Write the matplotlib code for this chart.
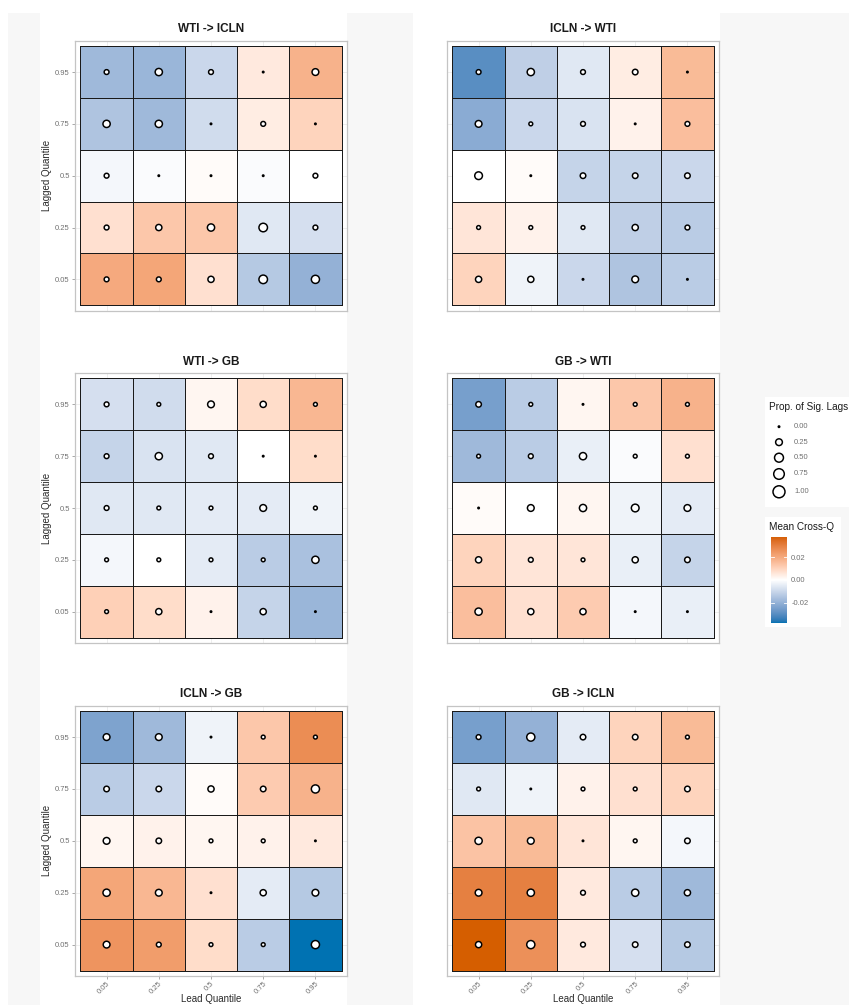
import numpy as np
import matplotlib
matplotlib.use("Agg")
import matplotlib.pyplot as plt
from matplotlib.colors import ListedColormap, Normalize
from matplotlib.patches import Rectangle
from matplotlib.cm import ScalarMappable

plt.rcParams['font.family'] = ['Liberation Sans', 'DejaVu Sans']

W, H, DPI = 849, 1005, 100

quantiles = ["0.05", "0.25", "0.5", "0.75", "0.95"]

# mean cross-quantilogram, rows from lag 0.95 (top) down to lag 0.05
wti_icln_mean = [[-0.018, -0.019, -0.010, 0.005, 0.018],
                 [-0.015, -0.018, -0.009, 0.004, 0.010],
                 [-0.002, -0.001, 0.001, -0.001, 0.000],
                 [0.007, 0.013, 0.013, -0.006, -0.008],
                 [0.020, 0.021, 0.007, -0.014, -0.020]]
wti_icln_prop = [[0.10, 0.30, 0.10, 0.00, 0.25],
                 [0.30, 0.30, 0.00, 0.10, 0.00],
                 [0.10, 0.00, 0.00, 0.00, 0.10],
                 [0.10, 0.20, 0.30, 0.45, 0.10],
                 [0.10, 0.10, 0.20, 0.45, 0.40]]

icln_wti_mean = [[-0.030, -0.012, -0.006, 0.004, 0.016],
                 [-0.022, -0.010, -0.007, 0.003, 0.015],
                 [0.000, 0.001, -0.011, -0.011, -0.010],
                 [0.006, 0.003, -0.006, -0.012, -0.013],
                 [0.010, -0.003, -0.010, -0.015, -0.013]]
icln_wti_prop = [[0.10, 0.30, 0.10, 0.15, 0.00],
                 [0.25, 0.05, 0.10, 0.00, 0.10],
                 [0.35, 0.00, 0.15, 0.15, 0.15],
                 [0.05, 0.05, 0.05, 0.20, 0.10],
                 [0.20, 0.20, 0.00, 0.25, 0.00]]

wti_gb_mean = [[-0.008, -0.009, 0.002, 0.008, 0.017],
               [-0.011, -0.007, -0.006, 0.000, 0.008],
               [-0.006, -0.006, -0.005, -0.005, -0.003],
               [-0.002, 0.000, -0.005, -0.013, -0.016],
               [0.011, 0.008, 0.003, -0.011, -0.019]]
wti_gb_prop = [[0.10, 0.05, 0.25, 0.20, 0.05],
               [0.10, 0.30, 0.10, 0.00, 0.00],
               [0.10, 0.05, 0.05, 0.25, 0.05],
               [0.05, 0.05, 0.05, 0.05, 0.30],
               [0.05, 0.20, 0.00, 0.20, 0.00]]

gb_wti_mean = [[-0.025, -0.013, 0.002, 0.013, 0.018],
               [-0.018, -0.013, -0.004, -0.001, 0.007],
               [0.001, 0.000, 0.002, -0.003, -0.005],
               [0.010, 0.006, 0.006, -0.004, -0.011],
               [0.015, 0.007, 0.012, -0.002, -0.004]]
gb_wti_prop = [[0.15, 0.05, 0.00, 0.05, 0.05],
               [0.05, 0.10, 0.30, 0.05, 0.05],
               [0.00, 0.25, 0.30, 0.35, 0.25],
               [0.20, 0.10, 0.05, 0.20, 0.15],
               [0.30, 0.20, 0.20, 0.00, 0.00]]

icln_gb_mean = [[-0.024, -0.018, -0.003, 0.013, 0.027],
                [-0.013, -0.010, 0.001, 0.012, 0.018],
                [0.002, 0.003, 0.002, 0.003, 0.005],
                [0.021, 0.017, 0.007, -0.005, -0.014],
                [0.025, 0.023, 0.008, -0.013, -0.038]]
icln_gb_prop = [[0.25, 0.25, 0.00, 0.05, 0.05],
                [0.15, 0.15, 0.20, 0.15, 0.40],
                [0.25, 0.15, 0.05, 0.05, 0.00],
                [0.30, 0.25, 0.00, 0.20, 0.25],
                [0.25, 0.10, 0.05, 0.05, 0.40]]

gb_icln_mean = [[-0.025, -0.020, -0.005, 0.010, 0.016],
                [-0.006, -0.003, 0.003, 0.007, 0.010],
                [0.014, 0.016, 0.006, 0.002, -0.002],
                [0.030, 0.030, 0.005, -0.013, -0.018],
                [0.038, 0.026, 0.005, -0.008, -0.014]]
gb_icln_prop = [[0.10, 0.40, 0.15, 0.15, 0.05],
                [0.05, 0.00, 0.05, 0.05, 0.15],
                [0.30, 0.25, 0.00, 0.05, 0.15],
                [0.25, 0.30, 0.10, 0.30, 0.20],
                [0.20, 0.40, 0.10, 0.15, 0.15]]

panels = [("WTI -> ICLN", wti_icln_mean, wti_icln_prop),
          ("ICLN -> WTI", icln_wti_mean, icln_wti_prop),
          ("WTI -> GB", wti_gb_mean, wti_gb_prop),
          ("GB -> WTI", gb_wti_mean, gb_wti_prop),
          ("ICLN -> GB", icln_gb_mean, icln_gb_prop),
          ("GB -> ICLN", gb_icln_mean, gb_icln_prop)]

size_breaks = [0.0, 0.25, 0.5, 0.75, 1.0]
fill_breaks = [-0.02, 0.0, 0.02]


# diverging blue-white-orange ramp interpolated in CIE Lab
M = np.array([[0.4124564, 0.3575761, 0.1804375],
              [0.2126729, 0.7151522, 0.0721750],
              [0.0193339, 0.1191920, 0.9503041]])
WHITE = np.array([0.95047, 1.0, 1.08883])


def hex_to_lab(h):
    rgb = np.array([int(h[i:i + 2], 16) for i in (1, 3, 5)]) / 255.0
    lin = np.where(rgb <= 0.04045, rgb / 12.92, ((rgb + 0.055) / 1.055) ** 2.4)
    t = (M @ lin) / WHITE
    f = np.where(t > (6 / 29) ** 3, np.cbrt(t), t / (3 * (6 / 29) ** 2) + 4 / 29)
    return np.array([116 * f[1] - 16, 500 * (f[0] - f[1]), 200 * (f[1] - f[2])])


def lab_to_rgb(lab):
    fy = (lab[0] + 16) / 116
    f = np.array([fy + lab[1] / 500, fy, fy - lab[2] / 200])
    t = np.where(f > 6 / 29, f ** 3, 3 * (6 / 29) ** 2 * (f - 4 / 29))
    lin = np.clip(np.linalg.inv(M) @ (t * WHITE), 0, 1)
    rgb = np.where(lin <= 0.0031308, 12.92 * lin, 1.055 * lin ** (1 / 2.4) - 0.055)
    return np.clip(rgb, 0, 1)


lab_low, lab_mid, lab_high = hex_to_lab("#0072B2"), hex_to_lab("#FFFFFF"), hex_to_lab("#D55E00")
ramp = []
for t in np.linspace(0, 1, 257):
    if t < 0.5:
        ramp.append(lab_to_rgb(lab_low + (lab_mid - lab_low) * (t / 0.5)))
    else:
        ramp.append(lab_to_rgb(lab_mid + (lab_high - lab_mid) * ((t - 0.5) / 0.5)))
cmap = ListedColormap(ramp)
lim = max(np.abs(np.array(p[1])).max() for p in panels)
norm = Normalize(-lim, lim)

LW_PX = 1.5


def marker_area(v):
    outer = 3.0 + 10.5 * np.sqrt(np.asarray(v, dtype=float))
    return ((outer - LW_PX) * 72.0 / DPI) ** 2


fig = plt.figure(figsize=(W / DPI, H / DPI), dpi=DPI, facecolor="white")


def px_axes(x0, y0, x1, y1):
    return fig.add_axes([x0 / W, 1 - y1 / H, (x1 - x0) / W, (y1 - y0) / H])


# page background
fig.add_artist(Rectangle((8 / W, 0), 1 - 8 / W, 1 - 13 / H, transform=fig.transFigure,
                         facecolor="#f7f7f7", edgecolor="none", zorder=-10))
for x0 in (40, 413):
    fig.add_artist(Rectangle((x0 / W, 0), 307 / W, 1 - 13 / H, transform=fig.transFigure,
                             facecolor="white", edgecolor="none", zorder=-9))

cols = [(75, 347), (447, 719)]
rows = [(40.7, 310.7), (373, 643), (705.7, 976)]
edges = np.arange(0.5, 6.0, 1.0)
gx, gy = np.meshgrid(np.arange(1, 6), np.arange(1, 6))

for i, (name, mean, prop) in enumerate(panels):
    r, c = divmod(i, 2)
    ax = px_axes(cols[c][0], rows[r][0], cols[c][1], rows[r][1])
    C = np.array(mean)[::-1]
    S = np.array(prop)[::-1]
    ax.pcolormesh(edges, edges, C, cmap=cmap, norm=norm, edgecolors="#1a1a1a", linewidth=0.7)
    ax.scatter(gx.ravel(), gy.ravel(), s=marker_area(S.ravel()), facecolor="white",
               edgecolor="black", linewidths=LW_PX * 72 / DPI, zorder=3)
    ax.set_xlim(0.395, 5.605)
    ax.set_ylim(0.395, 5.605)
    ax.set_xticks(range(1, 6))
    ax.set_yticks(range(1, 6))
    ax.grid(True, color="#ebebeb", lw=0.6)
    ax.set_axisbelow(True)
    for sp in ax.spines.values():
        sp.set_color("#c4c4c4")
        sp.set_linewidth(0.9)
    ax.tick_params(length=2.2, width=0.6, color="#9a9a9a", labelsize=5.5,
                   labelcolor="#707070", pad=1.5)
    ax.set_title(name, fontsize=8.5, fontweight="bold", color="#1a1a1a", pad=6)
    if c == 0:
        ax.set_yticklabels(quantiles)
        ax.set_ylabel("Lagged Quantile", fontsize=7, color="#2a2a2a", labelpad=2)
    else:
        ax.tick_params(axis="y", left=False, labelleft=False)
    if r == 2:
        ax.set_xticklabels(quantiles, rotation=45, ha="right", va="top",
                           rotation_mode="anchor")
        ax.tick_params(axis="x", pad=1.0)
        ax.set_xlabel("Lead Quantile", fontsize=7, color="#2a2a2a", labelpad=-1.5)
    else:
        ax.tick_params(axis="x", bottom=False, labelbottom=False)


def legend_box(x0, y0, x1, y1):
    lx = px_axes(x0, y0, x1, y1)
    lx.set_xlim(0, x1 - x0)
    lx.set_ylim(y1 - y0, 0)
    lx.set_xticks([])
    lx.set_yticks([])
    for sp in lx.spines.values():
        sp.set_visible(False)
    lx.set_facecolor("white")
    return lx


# size legend
sl = legend_box(765, 396.7, 849, 506.7)
sl.text(4, 10.6, "Prop. of Sig. Lags", fontsize=7.2, color="#1a1a1a", va="center")
key_y, y = [], 30.0
prev = None
for b in size_breaks:
    h = max(15.5, 3.0 + 10.5 * np.sqrt(b) + 5)
    if prev is not None:
        y += (prev + h) / 2
    key_y.append(y)
    prev = h
sl.scatter([14] * len(size_breaks), key_y, s=marker_area(size_breaks), facecolor="white",
           edgecolor="black", linewidths=LW_PX * 72 / DPI, clip_on=False)
for b, yy in zip(size_breaks, key_y):
    sl.text(29, yy, f"{b:.2f}", fontsize=5.5, color="#707070", va="center")

# fill legend
fl = legend_box(765, 516.7, 841, 627)
fl.text(4, 10.0, "Mean Cross-Q", fontsize=7.2, color="#1a1a1a", va="center")
cax = px_axes(770.7, 536.7, 787, 623)
cb = fig.colorbar(ScalarMappable(norm=norm, cmap=cmap), cax=cax, ticks=fill_breaks)
cb.outline.set_visible(False)
cb.ax.set_yticklabels([f"{v:.2f}" for v in fill_breaks])
cax.tick_params(length=0, labelsize=5.5, labelcolor="#707070", pad=3)
for v in fill_breaks:
    cax.plot([0, 0.2], [v, v], color="white", lw=0.6, transform=cax.get_yaxis_transform())
    cax.plot([0.8, 1.0], [v, v], color="white", lw=0.6, transform=cax.get_yaxis_transform())

fig.savefig("out.png", dpi=DPI, facecolor=fig.get_facecolor())
